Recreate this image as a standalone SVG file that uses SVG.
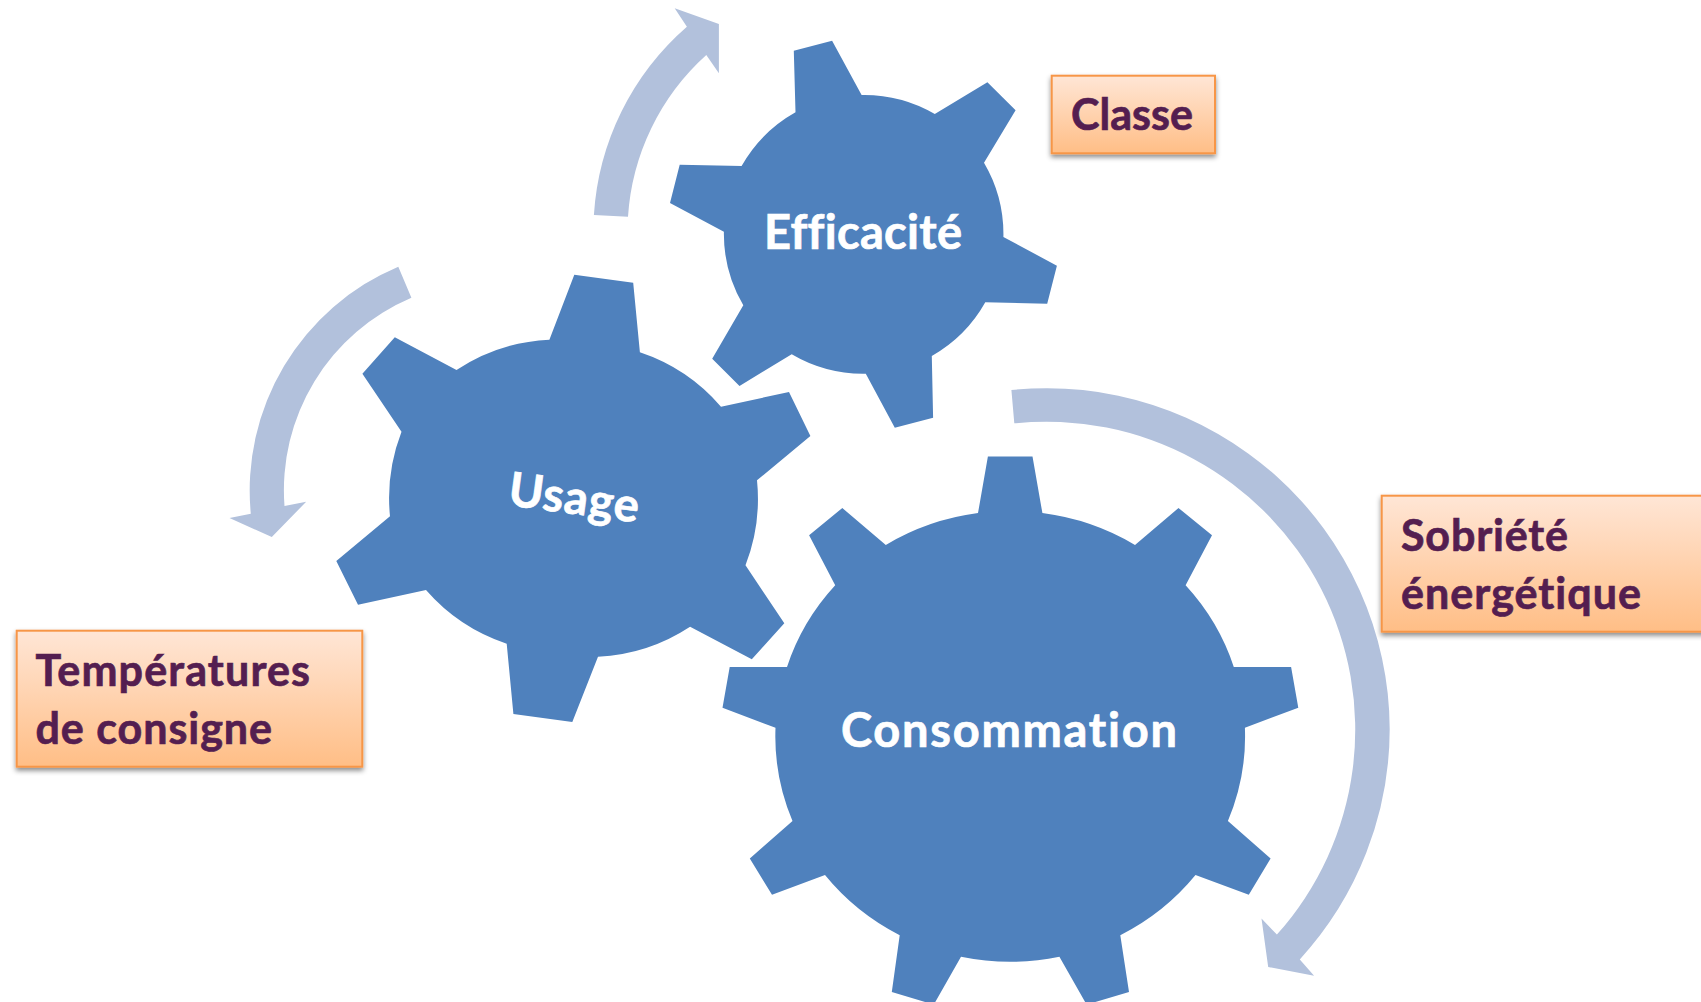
<svg xmlns="http://www.w3.org/2000/svg" width="1701" height="1002" viewBox="0 0 1701 1002">
<style>
.gear{fill:#4f81bd}
.arrow{fill:#b2c1dc}
.box{fill:url(#boxFill);stroke:#f79646;stroke-width:2;filter:url(#shadow)}
text{font-family:"Lato","Liberation Sans",sans-serif;font-weight:700;font-variant-ligatures:none;stroke-width:0.7px}
.gt{fill:#fff;stroke:#fff;font-size:47px}
.bt{fill:#541e50;stroke:#541e50;font-size:43px}
</style>
<defs>
<linearGradient id="boxFill" x1="0" y1="0" x2="0" y2="1"><stop offset="0" stop-color="#ffe6d6"/><stop offset="1" stop-color="#ffbe86"/></linearGradient>
<filter id="shadow" x="-10%" y="-15%" width="120%" height="135%"><feDropShadow dx="0" dy="3" stdDeviation="2.5" flood-color="#000" flood-opacity="0.45"/></filter>
</defs>
<rect width="1701" height="1002" fill="#fff"/>
<g id="connectors">
<path class="arrow" d="M593.9 215A272 272 0 0 1 686.9 26.7L674.7 8.3L718.9 24L718.9 73.3L706.3 55A238 238 0 0 0 628 216.7Z"/>
<path class="arrow" d="M398.3 266.7A242.8 242.8 0 0 0 250.8 513.7L229.5 518L271.8 537L306.2 501.7L284.5 506A209 209 0 0 1 411.4 297.7Z"/>
<path class="arrow" d="M1011.4 390A343 342 0 0 1 1389.7 729A343 342 0 0 1 1299.8 959.4L1314.1 975.8L1268.2 966.9L1261.5 918.5L1276.9 934.6A309 308 0 0 0 1014.3 423.3Z"/>
</g>
<g id="gear-efficacite">
<path class="gear" d="M793.8 50.7L832.1 40.7L861.6 95A141 141 0 0 1 934.8 114L987.4 82.3L1015.6 110.3L984 162.7A141 141 0 0 1 1003.4 237L1056.9 265.7L1047.2 303.7L985.3 302.3A141 141 0 0 1 931.8 356L933.1 417.7L894.8 427.7L865.8 373.7A141 141 0 0 1 791.7 354.3L739.5 386L712.2 358.7L743.3 305.3A141 141 0 0 1 723.9 231.7L670 203L679.7 164.7L741.6 166A141 141 0 0 1 795.5 112.3Z"/>
<text class="gt" x="764" y="249.3" textLength="198">Efficacité</text>
</g>
<g id="gear-usage">
<path class="gear" d="M574.3 274.7L633.2 282.7L639.9 352.3A184 184 0 0 1 721 406.7L789 392L810.4 436L757 480.3A184 184 0 0 1 745.5 565.3L784.3 623.3L751.8 659.3L690.1 626.7A184 184 0 0 1 598 656.7L572.3 722L513.4 714L506.7 643.7A184 184 0 0 1 426 590L358 604.7L336.3 561L390 516.3A184 184 0 0 1 401.5 431.7L362.4 373.7L394.8 337.3L456.5 370A184 184 0 0 1 549.4 339.7Z"/>
<text class="gt" x="0" y="0" textLength="131" transform="translate(507 505) rotate(7.7)">Usage</text>
</g>
<g id="gear-consommation">
<path class="gear" d="M987.9 456.5L1032.5 456.5L1042.4 513.1A235 225.6 0 0 1 1135 545L1178.5 508.1L1212 535.3L1185.6 585.2A235 225.6 0 0 1 1233.8 666.9L1291.1 666.9L1298.3 707.7L1244.9 727.8A235 225.6 0 0 1 1227.9 821L1270.6 858.6L1248.8 894.8L1195.5 875.1A235 225.6 0 0 1 1120.3 935.3L1129 992L1086.6 1004.6L1059.4 956.8A235 225.6 0 0 1 961 956.8L933.8 1004.6L891.8 992L899.7 935.3A235 225.6 0 0 1 825 875.1L772 894.8L749.8 858.6L792.5 821A235 225.6 0 0 1 775.5 727.8L722.5 707.7L729.7 666.9L787 666.9A235 225.6 0 0 1 835.2 585.2L809.1 535.3L842.3 508.1L885.8 545A235 225.6 0 0 1 978 513.1Z"/>
<text class="gt" x="841" y="746.5" textLength="336">Consommation</text>
</g>
<g id="box-classe">
<rect class="box" x="1051.7" y="75.7" width="163.3" height="77.6"/>
<text class="bt" x="1071" y="130.3" textLength="122">Classe</text>
</g>
<g id="box-sobriete">
<rect class="box" x="1381.7" y="495.7" width="330" height="136"/>
<text class="bt" x="1401" y="551" textLength="167">Sobriété</text>
<text class="bt" x="1401" y="609.3" textLength="240">énergétique</text>
</g>
<g id="box-temperatures">
<rect class="box" x="16.7" y="630.7" width="345.6" height="136"/>
<text class="bt" x="35.5" y="686" textLength="274.5">Températures</text>
<text class="bt" x="35.5" y="744" textLength="236.5">de consigne</text>
</g>
</svg>
